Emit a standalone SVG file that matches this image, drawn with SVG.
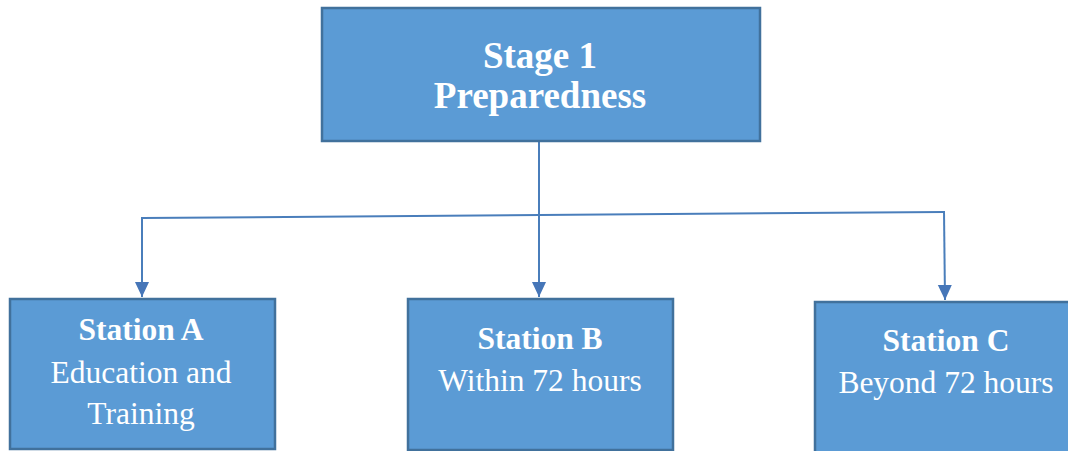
<svg xmlns="http://www.w3.org/2000/svg" width="1068" height="451" viewBox="0 0 1068 451">
<defs>
<marker id="arr" markerUnits="userSpaceOnUse" markerWidth="16" markerHeight="16" viewBox="0 0 16 16" refX="15" refY="8" orient="auto">
<path d="M0,1 L15,8 L0,15 Z" fill="#4676B8"/>
</marker>
<style>
.box{fill:#5B9BD5;stroke:#41719C;stroke-width:2.5}
.t{font-family:"Liberation Serif","Times New Roman",serif;fill:#fff;text-anchor:middle}
.b{font-weight:bold}
.big{font-size:37px}
.med{font-size:31.5px}
.con{fill:none;stroke:#4A7EBB;stroke-width:2}
</style>
</defs>
<rect width="1068" height="451" fill="#fff"/>
<g id="connectors">
<line class="con" x1="539" y1="141" x2="539" y2="297" marker-end="url(#arr)"/>
<line class="con" x1="142" y1="218" x2="944" y2="212"/>
<line class="con" x1="142" y1="217" x2="142" y2="297" marker-end="url(#arr)"/>
<line class="con" x1="944" y1="211" x2="945" y2="300" marker-end="url(#arr)"/>
</g>
<g id="stage1">
<rect class="box" x="322" y="8" width="438" height="133"/>
<text class="t b big" x="540" y="68">Stage 1</text>
<text class="t b big" x="540" y="108">Preparedness</text>
</g>
<g id="stationA">
<rect class="box" x="10" y="299" width="265" height="150"/>
<text class="t b med" x="141" y="340">Station A</text>
<text class="t med" x="141" y="383">Education and</text>
<text class="t med" x="141" y="424">Training</text>
</g>
<g id="stationB">
<rect class="box" x="408" y="299" width="265" height="151"/>
<text class="t b med" x="540" y="349">Station B</text>
<text class="t med" x="540" y="391">Within 72 hours</text>
</g>
<g id="stationC">
<rect class="box" x="815" y="302" width="265" height="160"/>
<text class="t b med" x="946" y="351">Station C</text>
<text class="t med" x="946" y="393">Beyond 72 hours</text>
</g>
</svg>
